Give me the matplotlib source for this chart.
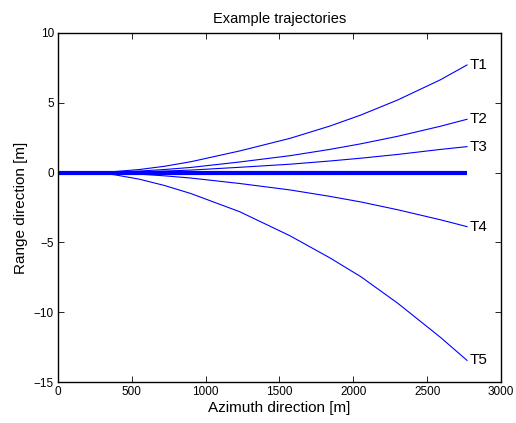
import matplotlib
matplotlib.use("Agg")
import matplotlib.pyplot as plt

plt.rcParams['font.family'] = ['Liberation Sans', 'DejaVu Sans']

# Azimuth sample positions [m]
x = [0, 200, 380, 550, 720, 900, 1230, 1570, 1840, 2050, 2300, 2590, 2770]
# Range offsets [m] of each trajectory
t1 = [0, 0, 0.07, 0.22, 0.45, 0.78, 1.55, 2.45, 3.33, 4.12, 5.2, 6.65, 7.71]
t2 = [0, 0, 0.03, 0.11, 0.22, 0.37, 0.76, 1.21, 1.66, 2.06, 2.6, 3.32, 3.82]
t3 = [0, 0, 0.02, 0.05, 0.11, 0.18, 0.38, 0.6, 0.83, 1.03, 1.3, 1.66, 1.86]
t4 = [0, 0, -0.03, -0.11, -0.23, -0.39, -0.78, -1.24, -1.7, -2.1, -2.66, -3.38, -3.87]
t5 = [0, 0, -0.15, -0.47, -0.92, -1.5, -2.8, -4.52, -6.1, -7.45, -9.35, -11.8, -13.45]
straight = [0] * len(x)
labels = ['T1', 'T2', 'T3', 'T4', 'T5']
series = [t1, t2, t3, t4, t5]

fig = plt.figure(figsize=(5.16, 4.23), dpi=100)
ax = fig.add_axes([0.1124, 0.0969, 0.9709 - 0.1124, 0.922 - 0.0969])

ax.plot(x, straight, color='#0000ff', lw=3.0, solid_capstyle='butt')
for ys, lab in zip(series, labels):
    ax.plot(x, ys, color='#0000ff', lw=0.8)
    ax.text(x[-1] + 15, ys[-1], lab, fontsize=11, va='center', ha='left')

ax.set_xlim(0, 3000)
ax.set_ylim(-15, 10)
ax.set_xticks([0, 500, 1000, 1500, 2000, 2500, 3000])
ax.set_yticks([-15, -10, -5, 0, 5, 10])
ax.tick_params(direction='in', top=True, right=True, length=4, width=0.6,
               labelsize=8.5, pad=3)
for s in ax.spines.values():
    s.set_linewidth(1.0)

ax.set_title('Example trajectories', fontsize=10.5, pad=7)
ax.set_xlabel('Azimuth direction [m]', fontsize=11, labelpad=2)
ax.set_ylabel('Range direction [m]', fontsize=11, labelpad=4)

fig.savefig('out.png', dpi=100)
